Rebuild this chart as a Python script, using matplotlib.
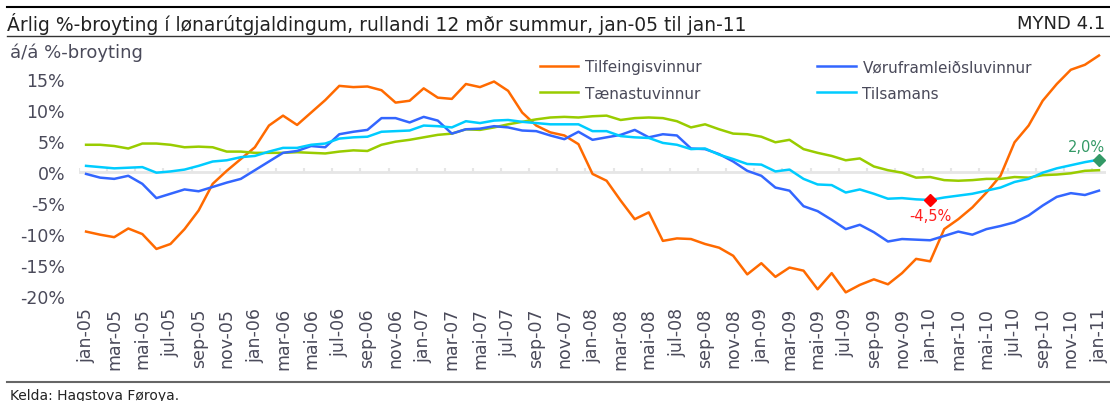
import numpy as np
import matplotlib
matplotlib.use("Agg")
import matplotlib.pyplot as plt
from matplotlib.lines import Line2D

# --- data -------------------------------------------------------------
months = ["jan", "feb", "mar", "apr", "mai", "jun",
          "jul", "aug", "sep", "okt", "nov", "des"]
periods = [f"{months[m]}-{y:02d}" for y in range(5, 11) for m in range(12)] + ["jan-11"]

tilfeingis = [-9.6, -10.1, -10.5, -9.1, -10.0, -12.4, -11.6, -9.2, -6.2, -1.9, 0.2, 2.1,
              4.0, 7.5, 9.1, 7.6, 9.6, 11.6, 13.9, 13.7, 13.8, 13.2, 11.2, 11.5,
              13.5, 12.0, 11.8, 14.2, 13.7, 14.6, 13.1, 9.6, 7.5, 6.4, 5.9, 4.5,
              -0.3, -1.4, -4.6, -7.6, -6.5, -11.1, -10.7, -10.8, -11.6, -12.2, -13.5, -16.5,
              -14.7, -16.9, -15.4, -15.9, -18.9, -16.3, -19.4, -18.2, -17.3, -18.1, -16.3, -14.0,
              -14.4, -9.2, -7.6, -5.7, -3.3, -0.6, 4.8, 7.5, 11.5, 14.2, 16.5, 17.3,
              18.8]
voruframleidslu = [-0.3, -0.9, -1.1, -0.6, -1.9, -4.2, -3.5, -2.8, -3.1, -2.4, -1.7, -1.1,
                   0.3, 1.7, 3.1, 3.4, 4.2, 4.0, 6.1, 6.5, 6.8, 8.7, 8.7, 8.0,
                   8.9, 8.3, 6.2, 6.9, 7.0, 7.4, 7.2, 6.7, 6.6, 5.9, 5.3, 6.5,
                   5.2, 5.6, 6.0, 6.8, 5.6, 6.1, 5.9, 3.8, 3.7, 2.9, 1.7, 0.2,
                   -0.6, -2.5, -3.0, -5.5, -6.3, -7.7, -9.2, -8.5, -9.7, -11.2, -10.8, -10.9,
                   -11.0, -10.3, -9.6, -10.1, -9.2, -8.7, -8.1, -7.0, -5.4, -4.0, -3.4, -3.7,
                   -3.0]
taenastu = [4.4, 4.4, 4.2, 3.8, 4.6, 4.6, 4.4, 4.0, 4.1, 4.0, 3.3, 3.3,
            3.1, 3.1, 3.1, 3.2, 3.1, 3.0, 3.3, 3.5, 3.4, 4.4, 4.9, 5.2,
            5.6, 6.0, 6.2, 6.9, 6.8, 7.2, 7.7, 8.1, 8.5, 8.8, 8.9, 8.8,
            9.0, 9.1, 8.4, 8.7, 8.8, 8.7, 8.2, 7.2, 7.7, 6.9, 6.2, 6.1,
            5.7, 4.8, 5.2, 3.7, 3.1, 2.6, 1.9, 2.2, 0.9, 0.3, -0.1, -0.9,
            -0.8, -1.3, -1.4, -1.3, -1.1, -1.1, -0.8, -0.9, -0.5, -0.4, -0.2, 0.2,
            0.3]
tilsamans = [1.0, 0.8, 0.6, 0.7, 0.8, -0.1, 0.1, 0.4, 1.0, 1.7, 1.9, 2.4,
             2.6, 3.3, 3.9, 3.9, 4.4, 4.6, 5.4, 5.6, 5.7, 6.5, 6.6, 6.7,
             7.5, 7.4, 7.2, 8.2, 7.9, 8.3, 8.4, 8.1, 7.9, 7.7, 7.7, 7.7,
             6.6, 6.6, 5.8, 5.6, 5.5, 4.7, 4.4, 3.7, 3.8, 2.8, 2.1, 1.3,
             1.2, 0.1, 0.4, -1.1, -2.0, -2.1, -3.3, -2.8, -3.5, -4.3, -4.2, -4.4,
             -4.5, -4.1, -3.8, -3.5, -3.0, -2.5, -1.6, -1.1, -0.1, 0.6, 1.1, 1.6,
             2.0]

yticks = [-20, -15, -10, -5, 0, 5, 10, 15]
min_idx = 60   # jan-10, lowest Tilsamans
last_idx = 72  # jan-11

# --- styling ------------------------------------------------------------
txt_col = "#4a4a5a"
fig = plt.figure(figsize=(11.1, 4.02), dpi=100)
ax = fig.add_axes([0.0712, 0.261, 0.9252, 0.617])

x = np.arange(len(periods))
ax.axhline(0, color="#e6e6e6", lw=2, zorder=1)
ax.vlines(np.arange(-0.5, len(periods), 2), 0, 0.6, color="#e6e6e6", lw=1.5, zorder=1)

ax.plot(x, tilfeingis, color="#ff6a00", lw=1.8, label="Tilfeingisvinnur", zorder=3)
ax.plot(x, taenastu, color="#99cc00", lw=1.8, label="Tænastuvinnur", zorder=3)
ax.plot(x, voruframleidslu, color="#3366ff", lw=1.8, label="Vøruframleiðsluvinnur", zorder=3)
ax.plot(x, tilsamans, color="#00ccff", lw=1.8, label="Tilsamans", zorder=3)

ax.plot(min_idx, tilsamans[min_idx], marker="D", color="#ff0000", ms=6, zorder=4)
ax.annotate(f"{tilsamans[min_idx]:.1f}%".replace(".", ","), (min_idx, tilsamans[min_idx]),
            xytext=(0, -6), textcoords="offset points", ha="center", va="top",
            color="#ff2020", fontsize=10.5)
ax.plot(last_idx, tilsamans[last_idx], marker="D", color="#339966", ms=6, zorder=4)
ax.annotate(f"{tilsamans[last_idx]:.1f}%".replace(".", ","), (last_idx, tilsamans[last_idx]),
            xytext=(-9, 4), textcoords="offset points", ha="center", va="bottom",
            color="#339966", fontsize=10.5)

ax.set_xlim(-0.5, len(periods) - 0.5)
ax.set_ylim(-20, 20)
ax.set_yticks(yticks)
ax.set_yticklabels([f"{v}%" for v in yticks], fontsize=12.5, color=txt_col)
ax.set_xticks(x[::2])
ax.set_xticklabels(periods[::2], rotation=90, fontsize=12.5, color=txt_col)
ax.tick_params(axis="both", length=0)
ax.tick_params(axis="y", pad=10)
ax.tick_params(axis="x", pad=8)
for s in ax.spines.values():
    s.set_visible(False)

leg = ax.legend(ncol=2, loc="upper left", bbox_to_anchor=(0.435, 1.01), frameon=False,
                fontsize=11, handlelength=2.5, handletextpad=0.45, columnspacing=7.6,
                labelspacing=0.75, labelcolor=txt_col)

# header / footer
fig.add_artist(Line2D([0.006, 1.0], [0.98, 0.98], color="black", lw=1.5))
fig.add_artist(Line2D([0.006, 1.0], [0.907, 0.907], color="#333333", lw=1))
fig.add_artist(Line2D([0.006, 1.0], [0.047, 0.047], color="#666666", lw=1.5))
fig.text(0.006, 0.94, "Árlig %-broyting í lønarútgjaldingum, rullandi 12 mðr summur, jan-05 til jan-11",
         fontsize=13.5, va="center", ha="left", color="#222222")
fig.text(0.996, 0.94, "MYND 4.1", fontsize=13, va="center", ha="right", color="#222222")
fig.text(0.009, 0.868, "á/á %-broyting", fontsize=13, va="center", ha="left", color=txt_col)
fig.text(0.009, 0.016, "Kelda: Hagstova Føroya.", fontsize=10, va="center", ha="left", color="#222222")

plt.savefig("out.png", dpi=100)
